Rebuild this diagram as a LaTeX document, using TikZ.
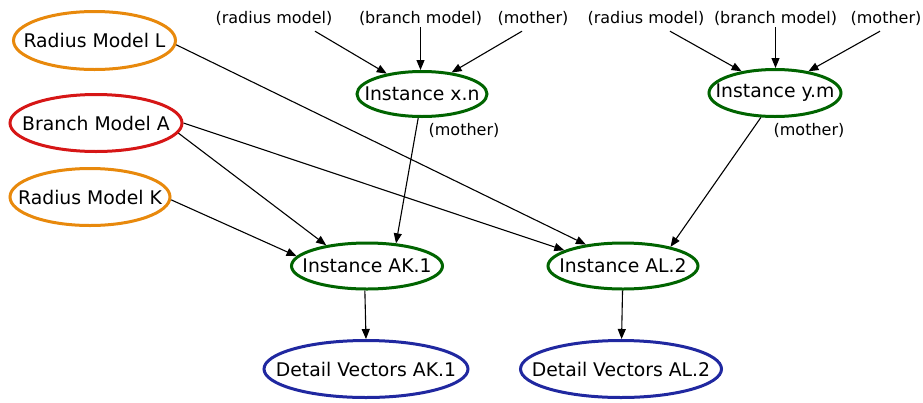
\documentclass[tikz,border=0pt]{standalone}
\usepackage{fontspec}
\setmainfont{DejaVu Sans}
\usetikzlibrary{shapes.geometric,arrows.meta}
\definecolor{cOrange}{RGB}{232,137,12}
\definecolor{cRed}{RGB}{214,22,22}
\definecolor{cGreen}{RGB}{0,100,0}
\definecolor{cBlue}{RGB}{32,40,160}
\tikzset{
  ell/.style={ellipse, draw, line width=3pt, inner sep=0pt,
    label={[font=\fontsize{18.8}{20}\selectfont, inner sep=0pt]center:#1}},
  radiusnode/.style={ell={#1}, draw=cOrange},
  branchnode/.style={ell={#1}, draw=cRed},
  instnode/.style={ell={#1}, draw=cGreen},
  detailnode/.style={ell={#1}, draw=cBlue},
  lbl/.style={inner sep=0pt, minimum height=26pt, font=\fontsize{16}{18}\selectfont},
  elbl/.style={inner sep=0pt, font=\fontsize{16}{18}\selectfont},
  conn/.style={line width=1.1pt, -{Triangle[length=10pt,width=8pt]}},
}
\begin{document}
\begin{tikzpicture}[x=1pt,y=-1pt]
\useasboundingbox (0,0) rectangle (923,402);
% main nodes
\node[radiusnode={Radius Model L}, minimum width=162pt, minimum height=58pt] (rl) at (94.5,40.5) {};
\node[branchnode={Branch Model A}, minimum width=172pt, minimum height=57pt] (ba) at (96,123) {};
\node[radiusnode={Radius Model K}, minimum width=160pt, minimum height=57pt] (rk) at (90,197) {};
\node[instnode={Instance x.n}, minimum width=130pt, minimum height=45pt] (xn) at (422,94) {};
\node[instnode={Instance y.m}, minimum width=132pt, minimum height=47pt] (ym) at (775,93) {};
\node[instnode={Instance AK.1}, minimum width=151pt, minimum height=46pt] (ak) at (367,266) {};
\node[instnode={Instance AL.2}, minimum width=150pt, minimum height=46pt] (al) at (623,266) {};
\node[detailnode={Detail Vectors AK.1}, minimum width=204pt, minimum height=57pt] (dak) at (366,369) {};
\node[detailnode={Detail Vectors AL.2}, minimum width=201pt, minimum height=57pt] (dal) at (621,369) {};
% label nodes
\node[lbl] (lr1) at (274,18) {(radius model)};
\node[lbl] (lb1) at (420.5,18) {(branch model)};
\node[lbl] (lm1) at (533,18) {(mother)};
\node[lbl] (lr2) at (646,18) {(radius model)};
\node[lbl] (lb2) at (775.5,18) {(branch model)};
\node[lbl] (lm2) at (886,18) {(mother)};
% edge labels
\node[elbl] (mx) at ([xshift=42pt,yshift=-36pt]xn.center) {(mother)};
\node[elbl] (my) at ([xshift=34pt,yshift=-37pt]ym.center) {(mother)};
% edges from labels
\draw[conn] ([xshift=41pt]lr1.south) -- (xn.150);
\draw[conn] ([yshift=4pt]lb1.south) -- (lb1.south |- xn.north);
\draw[conn] ([xshift=-11pt]lm1.south) -- (xn.36);
\draw[conn] ([xshift=24pt]lr2.south) -- (ym.147);
\draw[conn] ([yshift=4pt]lb2.south) -- (lb2.south |- ym.north);
\draw[conn] ([xshift=-6pt]lm2.south) -- (ym.33);
% main edges
\draw[conn] (rl.-3) -- (al.150);
\draw[conn] (ba.-7) -- (ak.153);
\draw[conn] (ba.0) -- (al.165);
\draw[conn] (rk.-2) -- (ak.172);
\draw[conn] (xn.-99) -- (ak.38);
\draw[conn] (ym.-120) -- (al.22);
\draw[conn] (ak.-95) -- (dak.90);
\draw[conn] (al) -- (dal);
\end{tikzpicture}
\end{document}
